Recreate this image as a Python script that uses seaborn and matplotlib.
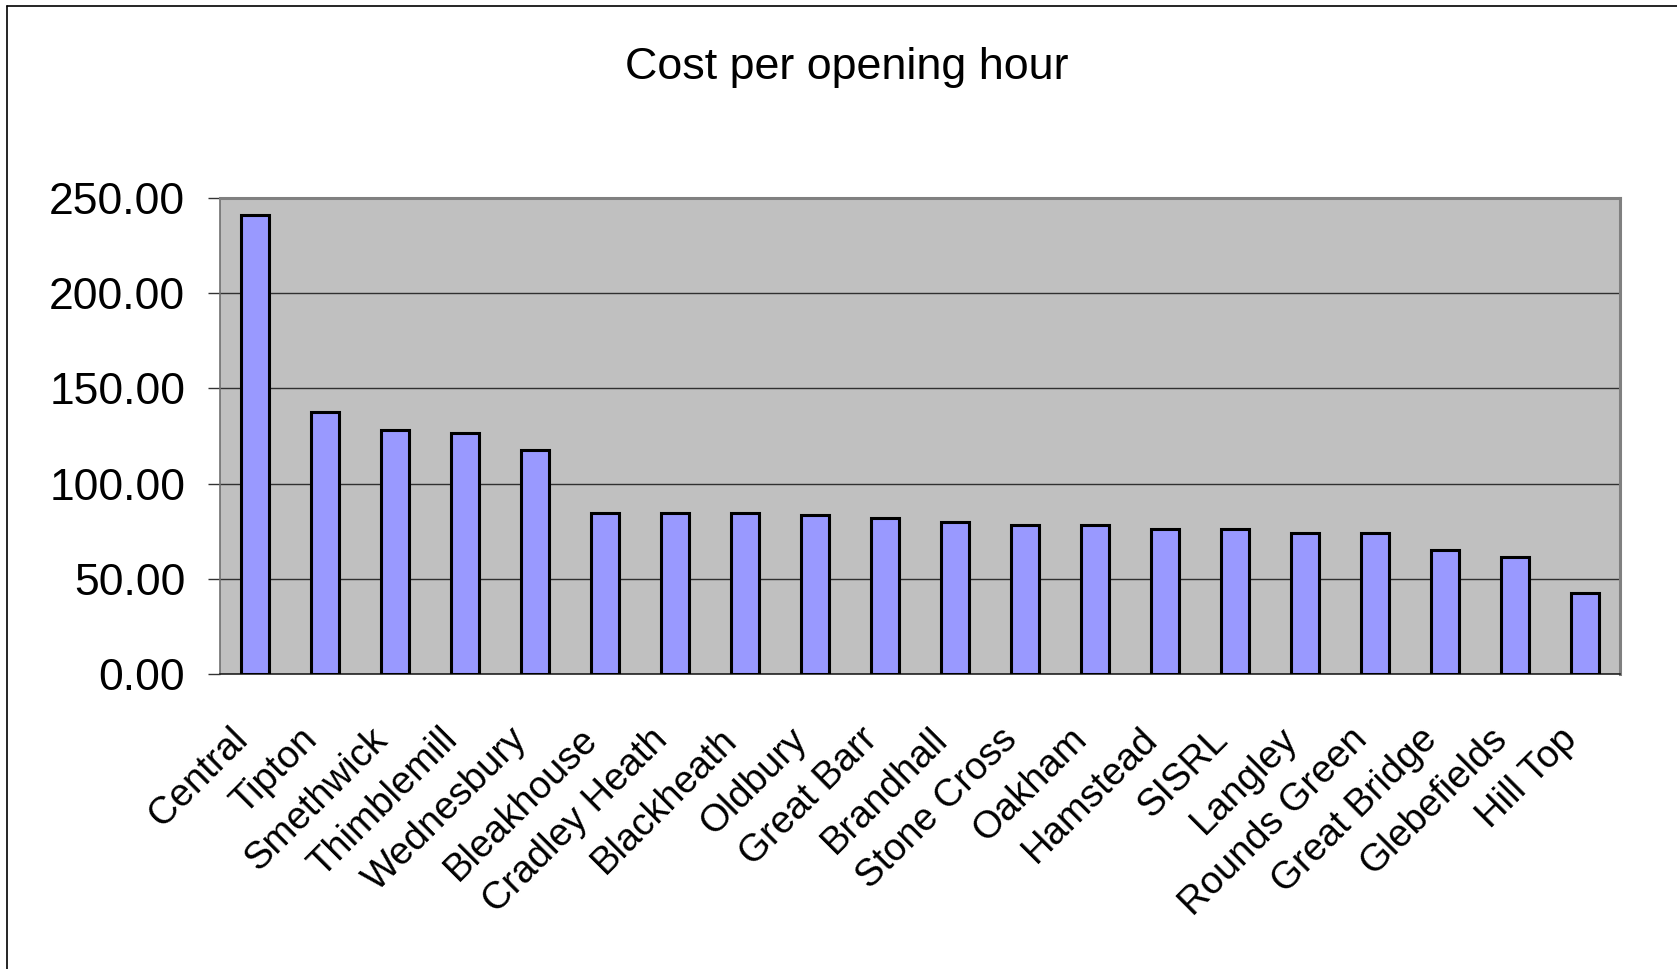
import matplotlib
matplotlib.use('Agg')
import matplotlib.pyplot as plt
import matplotlib.transforms as mtransforms
import seaborn as sns
import pandas as pd

# Libraries and their cost per opening hour
libraries = ['Central', 'Tipton', 'Smethwick', 'Thimblemill', 'Wednesbury',
             'Bleakhouse', 'Cradley Heath', 'Blackheath', 'Oldbury', 'Great Barr',
             'Brandhall', 'Stone Cross', 'Oakham', 'Hamstead', 'SISRL',
             'Langley', 'Rounds Green', 'Great Bridge', 'Glebefields', 'Hill Top']
cost = [241.0, 137.5, 128.3, 126.7, 117.4,
        84.4, 84.4, 84.4, 83.4, 82.0,
        79.7, 78.1, 78.1, 76.2, 76.2,
        74.2, 74.2, 64.9, 61.5, 42.8]
y_ticks = [0, 50, 100, 150, 200, 250]

df = pd.DataFrame({'Library': libraries, 'Cost': cost})

sns.set_theme(style='white')
plt.rcParams['font.family'] = ['Liberation Sans', 'DejaVu Sans']

W, H = 1677, 969
fig = plt.figure(figsize=(W / 100, H / 100), dpi=100)
ax = fig.add_axes([220 / W, 1 - 674 / H, 1400 / W, 476 / H])
ax.set_facecolor('#C0C0C0')

sns.barplot(data=df, x='Library', y='Cost', color='#9999FF', saturation=1,
            width=0.4, edgecolor='black', linewidth=2.2, ax=ax, zorder=3)

ax.set_ylim(0, 250)
ax.set_yticks(y_ticks)
ax.set_yticklabels([f'{v:.2f}' for v in y_ticks])
ax.yaxis.grid(True, color='#303030', linewidth=1)
ax.set_axisbelow(True)

# category boundaries as tick marks, labels at centres
n = len(libraries)
ax.set_xticks([i - 0.5 for i in range(n + 1)], minor=True)
ax.tick_params(axis='x', which='major', length=0, pad=34, labelcolor='black')
ax.tick_params(axis='x', which='minor', length=7, width=1, color='#555555', direction='out')
ax.tick_params(axis='y', length=9, width=1, color='#333333', direction='out', pad=16,
               labelsize=32, left=True, labelcolor='black')
ax.set_xticklabels(libraries, rotation=45, ha='right', va='top',
                   rotation_mode='anchor', fontsize=27.5)
offset = mtransforms.ScaledTranslation(-26 / 100, 0, fig.dpi_scale_trans)
for lbl in ax.get_xticklabels():
    lbl.set_transform(lbl.get_transform() + offset)

ax.set_xlabel('')
ax.set_ylabel('')

for side in ['top', 'right']:
    ax.spines[side].set_color('#808080')
    ax.spines[side].set_linewidth(2.2)
ax.spines['left'].set_color('#707070')
ax.spines['left'].set_linewidth(1.2)
ax.spines['bottom'].set_color('#222222')
ax.spines['bottom'].set_linewidth(1.2)

fig.text(847 / W, 1 - 67 / H, 'Cost per opening hour', ha='center', va='center',
         fontsize=32.3, color='black')

# outer chart border (top and left edges visible)
fig.add_artist(plt.Line2D([7 / W, 1], [1 - 6 / H, 1 - 6 / H], color='black',
                          linewidth=1.2, transform=fig.transFigure))
fig.add_artist(plt.Line2D([7 / W, 7 / W], [0, 1 - 6 / H], color='black',
                          linewidth=1.2, transform=fig.transFigure))

plt.savefig('out.png', dpi=100)
